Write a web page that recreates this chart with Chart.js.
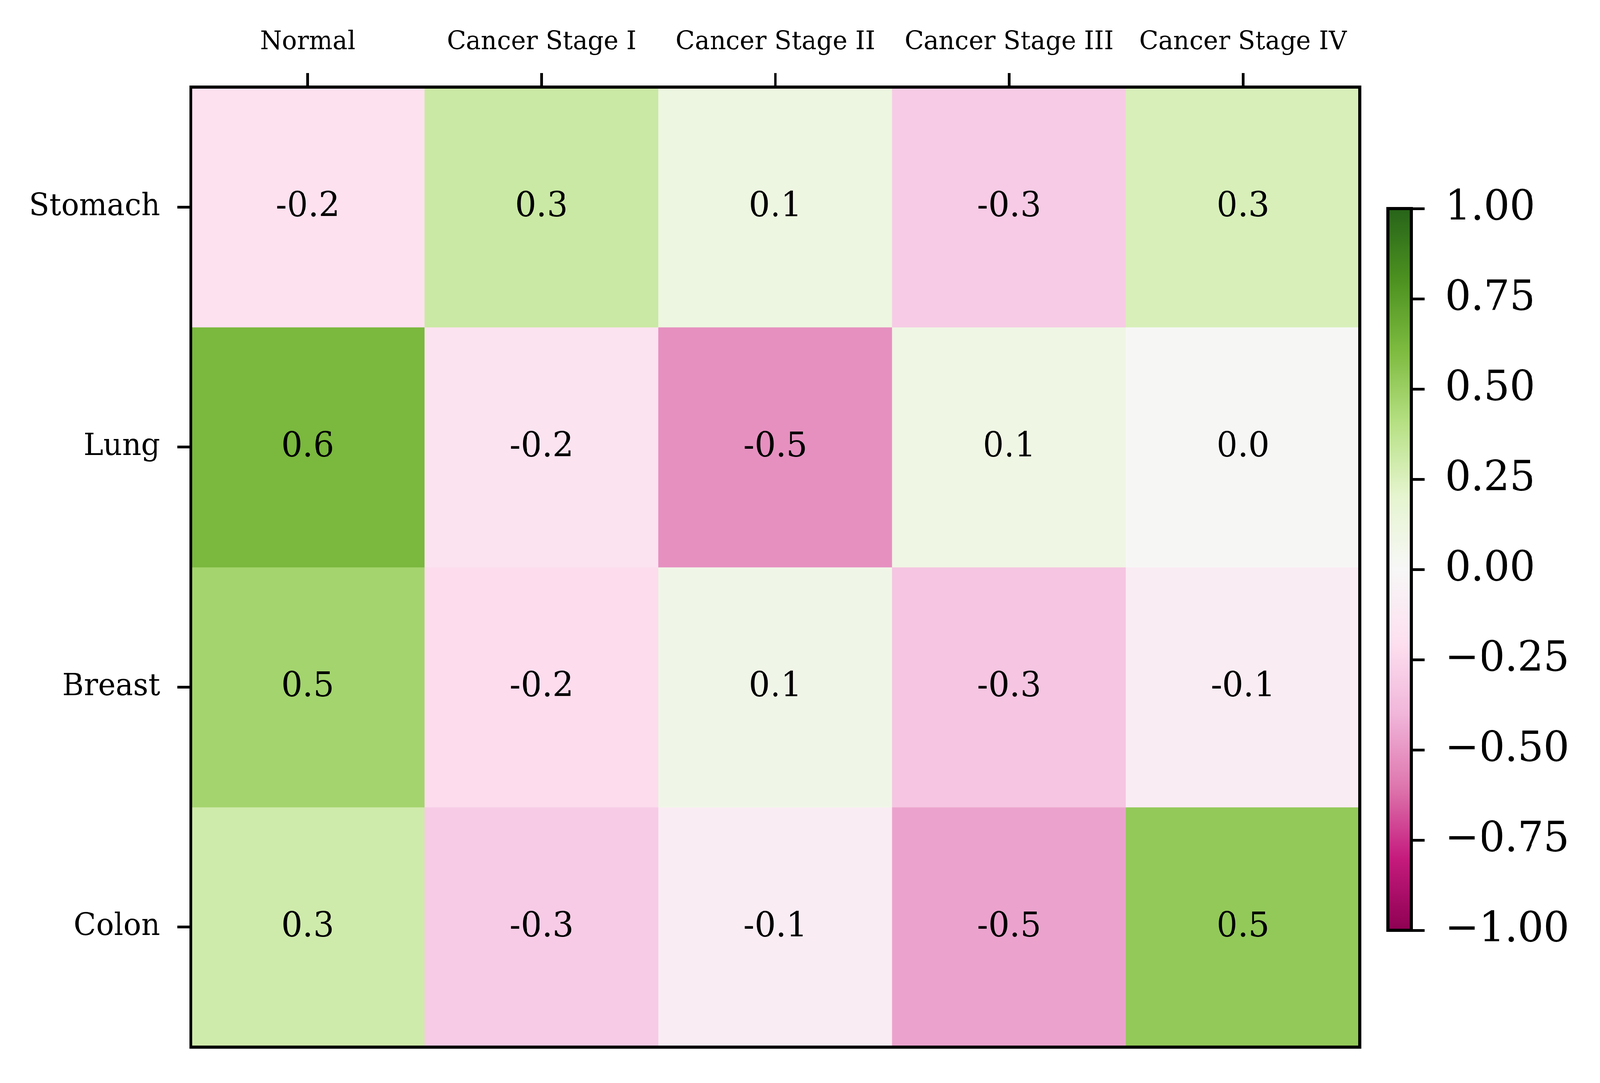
<!DOCTYPE html>
<html>
<head>
<meta charset="utf-8">
<script src="https://cdn.jsdelivr.net/npm/chart.js@4.4.1/dist/chart.umd.min.js"></script>
<style>
  html, body { margin:0; padding:0; background:#ffffff; overflow:hidden; }
  #wrap { position:absolute; left:0; top:0; width:4225px; height:2773px; transform-origin:0 0; }
  #main { position:absolute; left:0; top:0; }
  #cbar { position:absolute; left:3600px; top:0; }
</style>
</head>
<body>
<div id="wrap">
<canvas id="main" width="3640" height="2773" style="width:3640px;height:2773px"></canvas>
<canvas id="cbar" width="625" height="2773" style="width:625px;height:2773px"></canvas>
</div>
<script>
// ---- data ----
const columns = ['Normal', 'Cancer Stage I', 'Cancer Stage II', 'Cancer Stage III', 'Cancer Stage IV'];
const rows = ['Stomach', 'Lung', 'Breast', 'Colon'];
const stomachValues = [-0.19, 0.32, 0.12, -0.30, 0.26];
const lungValues    = [0.62, -0.17, -0.52, 0.10, 0.01];
const breastValues  = [0.47, -0.22, 0.08, -0.33, -0.10];
const colonValues   = [0.30, -0.30, -0.10, -0.46, 0.53];
const colorbarTicks = [-1, -0.75, -0.5, -0.25, 0, 0.25, 0.5, 0.75, 1];
const valueMin = -1, valueMax = 1;

const matrix = [stomachValues, lungValues, breastValues, colonValues];

// fit the 4225x2773 design to the actual viewport
(function fit() {
  const w = window.innerWidth || 4225, h = window.innerHeight || 2773;
  const sx = w / 4225, sy = h / 2773;
  document.getElementById('wrap').style.transform = `scale(${sx}, ${sy})`;
})();

// PiYG colormap (ColorBrewer anchors)
const PIYG = [[142,1,82],[197,27,125],[222,119,174],[241,182,218],[253,224,239],[247,247,247],[230,245,208],[184,225,134],[127,188,65],[77,146,33],[39,100,25]];
function piyg(t) {
  t = Math.max(0, Math.min(1, t));
  const s = t * 10;
  const i = Math.min(9, Math.floor(s));
  const f = s - i;
  const a = PIYG[i], b = PIYG[i + 1];
  const c = a.map((v, k) => Math.round(v + (b[k] - v) * f));
  return `rgb(${c[0]},${c[1]},${c[2]})`;
}
function colorFor(v) { return piyg((v - valueMin) / (valueMax - valueMin)); }

const FONT = 'DejaVu Serif';

const framePlugin = {
  id: 'frame',
  afterDatasetsDraw(chart, args, opts) {
    const {ctx, chartArea: a} = chart;
    ctx.save();
    if (opts.cellText) {
      ctx.fillStyle = '#000';
      ctx.font = `${opts.cellFont}px "${FONT}"`;
      ctx.textAlign = 'center';
      ctx.textBaseline = 'alphabetic';
      chart.data.datasets.forEach((ds, di) => {
        const meta = chart.getDatasetMeta(di);
        meta.data.forEach((el, j) => {
          const cy = (el.y + el.base) / 2;
          ctx.fillText(matrix[di][j].toFixed(1), el.x, cy + opts.cellFont * 0.27);
        });
      });
    }
    ctx.strokeStyle = '#000';
    ctx.lineWidth = opts.lineWidth;
    ctx.strokeRect(a.left, a.top, a.right - a.left, a.bottom - a.top);
    ctx.restore();
  }
};

// ---- main heatmap ----
new Chart(document.getElementById('main'), {
  type: 'bar',
  data: {
    labels: columns,
    datasets: rows.map((r, ri) => ({
      label: r,
      data: columns.map(() => [ri, ri + 1]),
      backgroundColor: matrix[ri].map(colorFor),
      borderWidth: 0,
      barPercentage: 1,
      categoryPercentage: 1,
      grouped: false,
      inflateAmount: 0.6
    }))
  },
  options: {
    responsive: false,
    devicePixelRatio: 1,
    animation: false,
    events: [],
    layout: { padding: { left: 0, top: 0, right: 49, bottom: 80 } },
    plugins: {
      legend: { display: false },
      tooltip: { enabled: false },
      frame: { lineWidth: 8, cellText: true, cellFont: 88 }
    },
    scales: {
      x: {
        type: 'category',
        position: 'top',
        offset: true,
        grid: { drawOnChartArea: false, offset: false, tickLength: 36, lineWidth: 7, color: '#000' },
        border: { display: false },
        ticks: { font: { family: FONT, size: 66 }, color: '#000', padding: 39, maxRotation: 0, autoSkip: false },
        afterFit(scale) { scale.height = 223; }
      },
      y: {
        type: 'linear',
        min: 0,
        max: rows.length,
        reverse: true,
        grid: { drawOnChartArea: false, tickLength: 36, lineWidth: 7, color: '#000' },
        border: { display: false },
        afterBuildTicks(scale) { scale.ticks = rows.map((_, i) => ({ value: i + 0.5 })); },
        ticks: {
          font: { family: FONT, size: 78 }, color: '#000', padding: 45, autoSkip: false,
          callback: (v) => rows[Math.floor(v)]
        },
        afterFit(scale) { scale.width = 504; }
      }
    }
  },
  plugins: [framePlugin]
});

// ---- colorbar ----
new Chart(document.getElementById('cbar'), {
  type: 'bar',
  data: {
    labels: ['scale'],
    datasets: [{
      data: [[valueMin, valueMax]],
      borderWidth: 0,
      barPercentage: 1,
      categoryPercentage: 1,
      backgroundColor(ctx) {
        const a = ctx.chart.chartArea;
        if (!a) return '#ccc';
        const g = ctx.chart.ctx.createLinearGradient(0, a.bottom, 0, a.top);
        for (let k = 0; k <= 50; k++) g.addColorStop(k / 50, piyg(k / 50));
        return g;
      }
    }]
  },
  options: {
    responsive: false,
    devicePixelRatio: 1,
    animation: false,
    events: [],
    layout: { padding: { left: 65, top: 534, right: 0, bottom: 391 } },
    plugins: {
      legend: { display: false },
      tooltip: { enabled: false },
      frame: { lineWidth: 8, cellText: false }
    },
    scales: {
      x: { display: false, offset: true },
      y: {
        type: 'linear',
        position: 'right',
        min: valueMin,
        max: valueMax,
        grid: { drawOnChartArea: false, tickLength: 35, lineWidth: 7, color: '#000' },
        border: { display: false },
        afterBuildTicks(scale) { scale.ticks = colorbarTicks.map(v => ({ value: v })); },
        ticks: {
          font: { family: FONT, size: 107 }, color: '#000', padding: 54, autoSkip: false,
          callback: (v) => (v < 0 ? '\u2212' : '') + Math.abs(v).toFixed(2)
        },
        afterFit(scale) { scale.width = 498; }
      }
    }
  },
  plugins: [framePlugin]
});
</script>
</body>
</html>
